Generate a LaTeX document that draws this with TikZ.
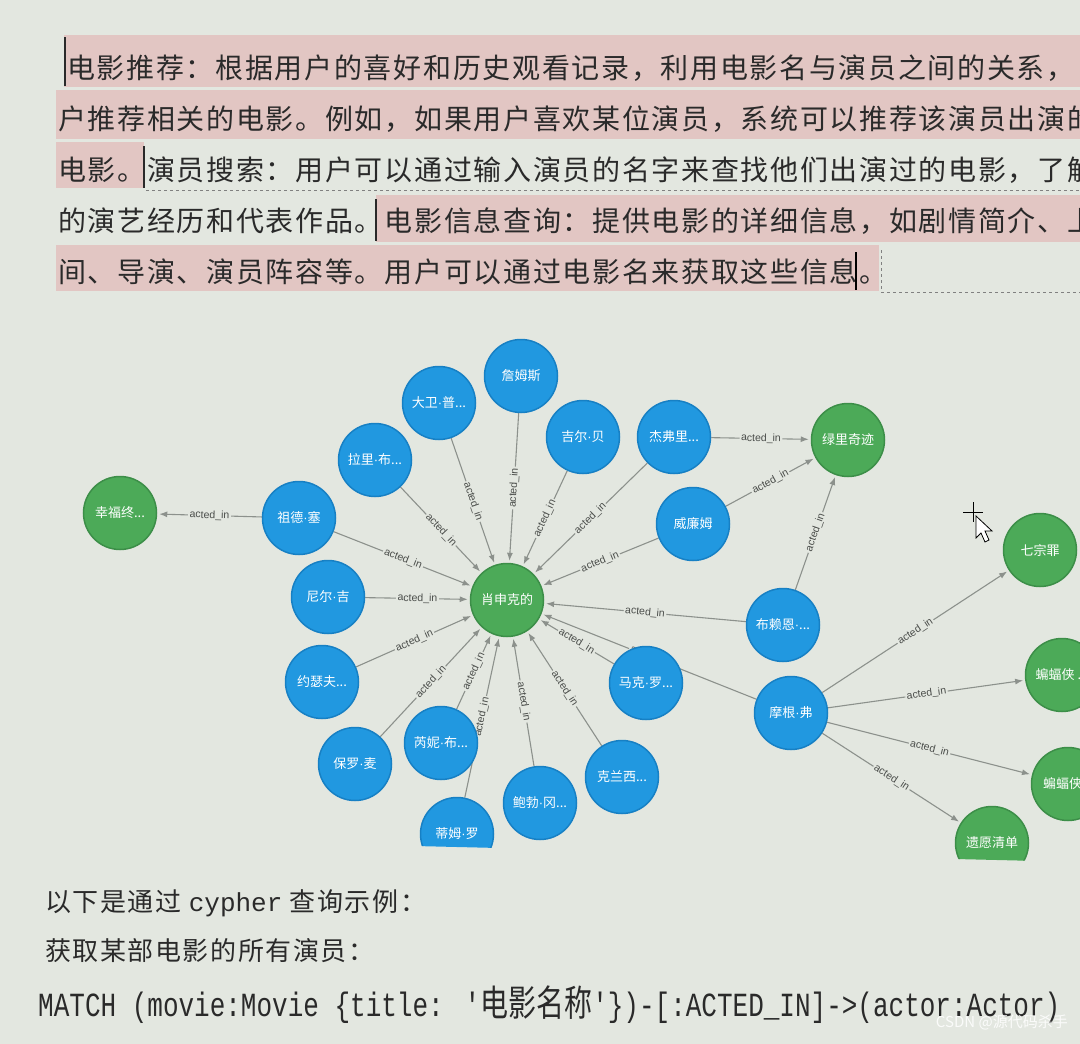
\documentclass[tikz,border=0pt]{standalone}
\usepackage{fontspec}
\usetikzlibrary{arrows.meta}
\newfontfamily\cjk{Noto Sans CJK SC}
\newfontfamily\cjkbody[LetterSpace=6]{Noto Sans CJK SC}
\newfontfamily\lmono{Liberation Mono}
\newfontfamily\lsans{Liberation Sans}
\newcommand{\md}{{\lsans ·}}
\definecolor{bgc}{HTML}{E3E7E0}
\definecolor{hl}{HTML}{E2C6C3}
\definecolor{txt}{HTML}{2A2A2A}
\definecolor{nblue}{HTML}{2198E0}
\definecolor{nblueb}{HTML}{1780C4}
\definecolor{ngreen}{HTML}{4CAA58}
\definecolor{ngreenb}{HTML}{3C8E48}
\definecolor{egray}{HTML}{8C918C}
\definecolor{lgray}{HTML}{4A4D4A}
\pgfdeclarelayer{back}
\pgfdeclarelayer{edges}
\pgfsetlayers{back,edges,main}
\tikzset{
  actor/.style={circle, fill=nblue, draw=nblueb, line width=1.5pt, minimum size=73pt, inner sep=0pt, text=white, font=\cjk\fontsize{13}{14}\selectfont},
  movie/.style={actor, fill=ngreen, draw=ngreenb},
  rel/.style={draw=egray, line width=1.1pt, -{Latex[length=8pt,width=6pt]}, shorten >=2pt},
  lbl/.style={sloped, fill=bgc, inner sep=1.5pt, text=lgray, font=\lsans\fontsize{10.5}{11}\selectfont},
  bodytext/.style={anchor=west, inner sep=0pt, text=txt, font=\cjkbody\fontsize{28}{32}\selectfont},
  lowtext/.style={anchor=west, inner sep=0pt, text=txt, font=\cjkbody\fontsize{26}{30}\selectfont},
}
\begin{document}
\begin{tikzpicture}[x=1pt,y=-1pt]
\useasboundingbox (0,0) rectangle (1080,1044);
\clip (0,0) rectangle (1080,1044);
\begin{pgfonlayer}{back}
\fill[bgc] (0,0) rectangle (1080,1044);
\end{pgfonlayer}

% highlighted paragraph
\fill[hl] (64,35) rectangle (1080,87);
\fill[hl] (56,90) rectangle (1080,139);
\fill[hl] (56,142) rectangle (144,188);
\fill[hl] (376,195) rectangle (1080,242);
\fill[hl] (56,245) rectangle (879,291);
\draw[txt, line width=1.2pt] (65,37) -- (65,86);
\draw[txt, line width=1.2pt] (144,146) -- (144,188);
\draw[txt, line width=1.2pt] (376,199) -- (376,241);
\draw[gray, line width=0.8pt, dashed] (146,190) -- (1080,190);
\draw[gray, line width=0.8pt, dashed] (881,292) -- (1080,292);
\draw[gray, line width=0.8pt, dashed] (881,250) -- (881,292);

\node[bodytext] (r1) at (67,68) {电影推荐：根据用户的喜好和历史观看记录，利用电影名与演员之间的关系，};
\node[bodytext] (r2) at (58,119) {户推荐相关的电影。例如，如果用户喜欢某位演员，系统可以推荐该演员出演的};
\node[bodytext] (r3) at (58,170) {电影。演员搜索：用户可以通过输入演员的名字来查找他们出演过的电影，了解};
\node[bodytext] (r4) at (58,221) {的演艺经历和代表作品。电影信息查询：提供电影的详细信息，如剧情简介、上};
\node[bodytext] (r5) at (58,272) {间、导演、演员阵容等。用户可以通过电影名来获取这些信息。};
\draw[black, line width=1.5pt] (856,252) -- (856,290);

% graph
\begin{scope}
\clip (0,0) -- (1080,0) -- (1080,862) -- (0,836) -- cycle;
\node[movie] (c) at (507,600) {肖申克的};
\node[movie] (xf) at (120,513) {幸福终...};
\node[movie] (lv) at (848,440) {绿里奇迹};
\node[movie] (qi) at (1040,550) {七宗罪};
\node[movie] (bf1) at (1062,675) {蝙蝠侠 ...};
\node[movie] (bf2) at (1068,784) {蝙蝠侠...};
\node[movie] (yi) at (992,843) {遗愿清单};
\node[actor] (zu) at (299,518) {祖德\md 塞};
\node[actor] (la) at (375,460) {拉里\md 布...};
\node[actor] (da) at (439,403) {大卫\md 普...};
\node[actor] (zh) at (521,376) {詹姆斯};
\node[actor] (ji) at (583,437) {吉尔\md 贝};
\node[actor] (jie) at (674,437) {杰弗里...};
\node[actor] (wei) at (693,524) {威廉姆};
\node[actor] (bu) at (783,625) {布赖恩\md ...};
\node[actor] (ni) at (328,597) {尼尔\md 吉};
\node[actor] (yue) at (322,682) {约瑟夫...};
\node[actor] (bao) at (355,764) {保罗\md 麦};
\node[actor] (rui) at (441,743) {芮妮\md 布...};
\node[actor] (ti) at (457,834) {蒂姆\md 罗};
\node[actor] (bob) at (540,803) {鲍勃\md 冈...};
\node[actor] (ke) at (622,777) {克兰西...};
\node[actor] (ma) at (646,683) {马克\md 罗...};
\node[actor] (mo) at (791,713) {摩根\md 弗};
\end{scope}

\begin{pgfonlayer}{edges}
\foreach \a in {zu,la,da,zh,ji,jie,wei,bu,ni,yue,bao,rui,ti,bob,ke,ma,mo}
  \draw[rel] (\a) -- node[lbl]{acted\_in} (c);
\draw[rel] (zu) -- node[lbl]{acted\_in} (xf);
\draw[rel] (jie) -- node[lbl]{acted\_in} (lv);
\draw[rel] (wei) -- node[lbl]{acted\_in} (lv);
\draw[rel] (bu) -- node[lbl]{acted\_in} (lv);
\draw[rel] (mo) -- node[lbl]{acted\_in} (qi);
\draw[rel] (mo) -- node[lbl]{acted\_in} (bf1);
\draw[rel] (mo) -- node[lbl]{acted\_in} (bf2);
\draw[rel] (mo) -- node[lbl]{acted\_in} (yi);
\end{pgfonlayer}

% mouse cursor
\draw[black, line width=0.8pt] (963,512) -- (983,512) (973,502) -- (973,522);
\draw[black, fill=white, line width=0.8pt] (976,516) -- (976,538) -- (981,533) -- (985,542) -- (989,540) -- (985,531) -- (992,531) -- cycle;

% lower text
\node[lowtext] (t1) at (45,903) {以下是通过 {\lmono\fontsize{26}{30}\selectfont cypher} 查询示例：};
\node[lowtext] (t2) at (45,951) {获取某部电影的所有演员：};
\node[anchor=west, inner sep=0pt, text=txt, yscale=1.3, font=\lmono\fontsize{26}{30}\selectfont] (t3) at (38,1005)
  {MATCH (movie:Movie \{title: '{\cjk\fontsize{28}{30}\selectfont 电影名称}'\})-[:ACTED\_IN]->(actor:Actor)};
\node[anchor=west, inner sep=0pt, text=txt, yscale=1.3, font=\lmono\fontsize{26}{30}\selectfont] (t4) at (38,1056) {RETURN actor};
\node[anchor=east, inner sep=0pt, text=white, opacity=0.85, font=\cjk\fontsize{15}{16}\selectfont] (wm) at (1068,1022) {CSDN @源代码杀手};
\end{tikzpicture}
\end{document}
